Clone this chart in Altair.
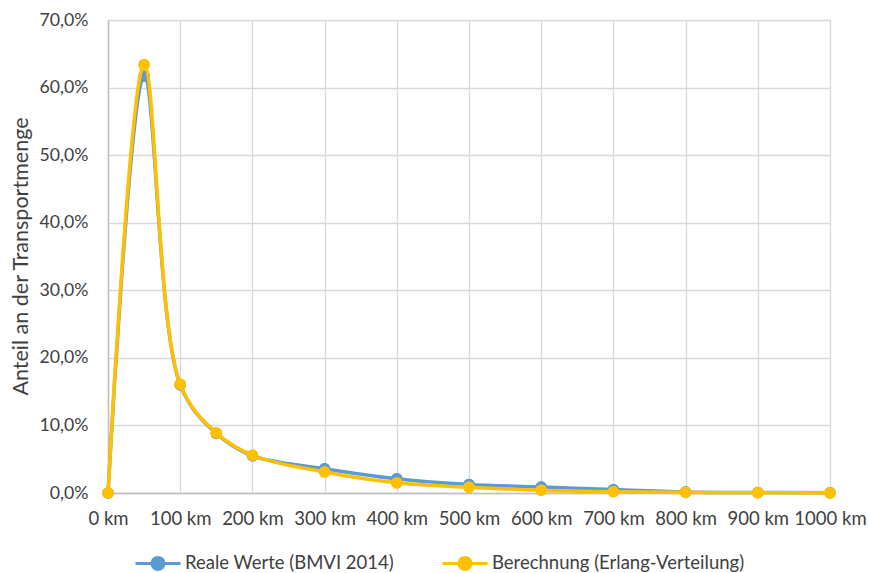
import altair as alt
import pandas as pd

distance_km = [0, 50, 100, 150, 200, 300, 400, 500, 600, 700, 800, 900, 1000]
real_share = [0.0, 0.617, 0.160, 0.088, 0.055, 0.036, 0.021, 0.0125, 0.009, 0.005, 0.0016, 0.0008, 0.0004]
calc_share = [0.0, 0.634, 0.161, 0.089, 0.056, 0.031, 0.015, 0.0085, 0.004, 0.0018, 0.0008, 0.0003, 0.0001]
series_names = ["Reale Werte (BMVI 2014)", "Berechnung (Erlang-Verteilung)"]
series_colors = ["#5B9BD5", "#FFC000"]
x_ticks = [0, 100, 200, 300, 400, 500, 600, 700, 800, 900, 1000]
y_ticks = [0.0, 0.1, 0.2, 0.3, 0.4, 0.5, 0.6, 0.7]

rows = []
for i, d in enumerate(distance_km):
    rows.append({"km": d, "share": real_share[i], "series": series_names[0]})
for i, d in enumerate(distance_km):
    rows.append({"km": d, "share": calc_share[i], "series": series_names[1]})
df = pd.DataFrame(rows)

FONT = "Lato"
TEXT = "#404040"
legend_path = "M-1,0L1,0M0.27,0A0.27,0.27,0,1,1,-0.27,0A0.27,0.27,0,1,1,0.27,0Z"

color = alt.Color(
    "series:N",
    scale=alt.Scale(domain=series_names, range=series_colors),
    sort=series_names,
    legend=alt.Legend(
        title=None,
        orient="none",
        direction="horizontal",
        legendX=26,
        legendY=519,
        symbolType=legend_path,
        symbolSize=2025,
        symbolStrokeWidth=3,
        labelFont=FONT,
        labelFontSize=18.5,
        labelColor=TEXT,
        labelOffset=3,
        columnPadding=42,
        padding=0,
        labelLimit=400,
    ),
)

x = alt.X(
    "km:Q",
    scale=alt.Scale(domain=[0, 1000], nice=False),
    axis=alt.Axis(
        values=x_ticks,
        title=None,
        labelExpr="datum.value + ' km'",
        labelFont=FONT,
        labelFontSize=18.5,
        labelColor=TEXT,
        labelPadding=16,
        ticks=False,
        domainColor="#BFBFBF",
        domainWidth=1.5,
        gridColor="#D9D9D9",
        gridWidth=1.3,
        labelFlush=False,
    ),
)
y = alt.Y(
    "share:Q",
    scale=alt.Scale(domain=[0, 0.7], nice=False),
    axis=alt.Axis(
        values=y_ticks,
        title="Anteil an der Transportmenge",
        labelExpr="replace(format(datum.value, '.1%'), '.', ',')",
        labelFont=FONT,
        labelFontSize=17.7,
        labelColor=TEXT,
        labelPadding=20,
        ticks=False,
        domainColor="#BFBFBF",
        domainWidth=1.5,
        gridColor="#D9D9D9",
        gridWidth=1.3,
        titleFont=FONT,
        titleFontSize=21.5,
        titleFontWeight="normal",
        titleColor=TEXT,
        titleX=-87,
        titleY=236,
        titleAngle=270,
        titleAlign="center",
        titleBaseline="middle",
    ),
)

base = alt.Chart(df)
lines = base.mark_line(strokeWidth=3.5, interpolate="catmull-rom").encode(
    x=x, y=y, color=color, order="km:Q", detail="series:N"
)
points = base.mark_point(filled=True, size=130, opacity=1).encode(
    x=x, y=y, color=color
)

layers = []
for name in series_names:
    f = alt.datum.series == name
    layers.append(points.transform_filter(f))
    layers.append(lines.transform_filter(f))
    layers.append(points.transform_filter(f))

chart = alt.layer(*layers).properties(
    width=722,
    height=473,
    autosize=alt.AutoSizeParams(type="none"),
    padding={"left": 108, "right": 39, "top": 20, "bottom": 80},
).configure_view(stroke=None).configure(background="white")

chart.save("out.html", embed_options={"renderer": "svg", "actions": False})
